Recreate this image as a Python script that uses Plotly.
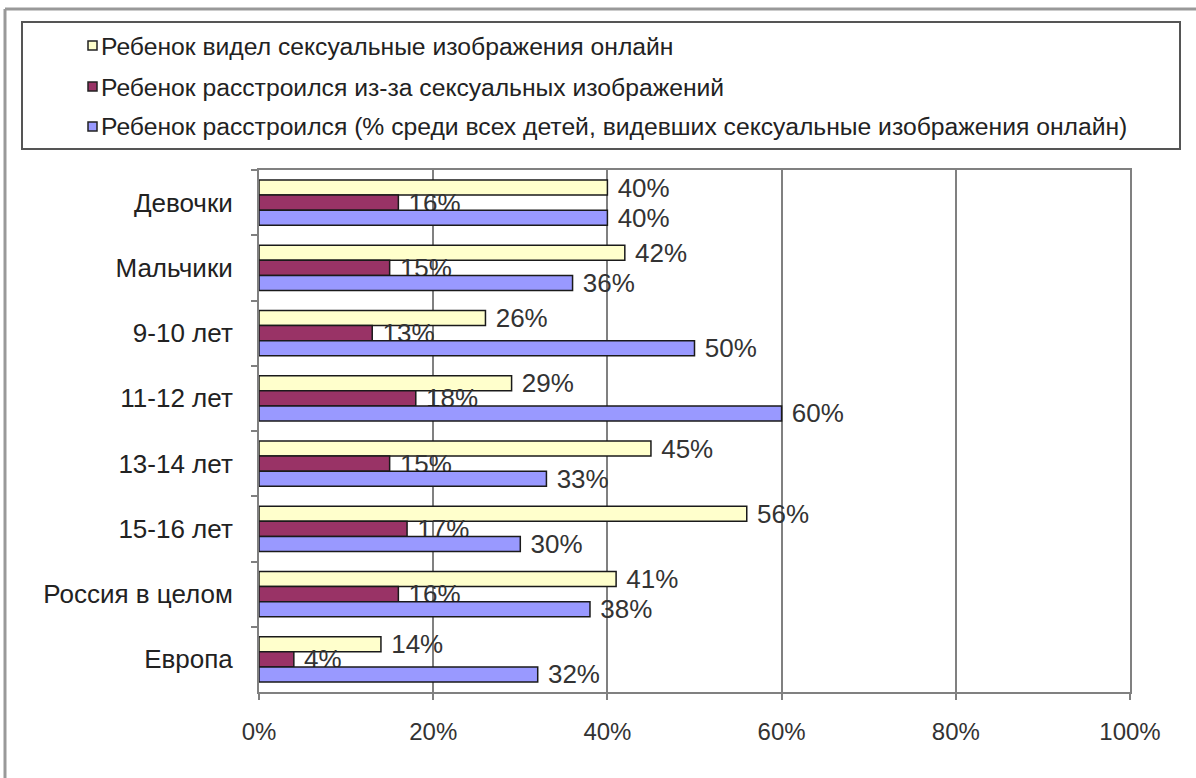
import plotly.graph_objects as go

# Categories (top to bottom) and the three series, as shares
categories = ["Девочки", "Мальчики", "9-10 лет", "11-12 лет", "13-14 лет",
              "15-16 лет", "Россия в целом", "Европа"]
seen_images = [0.40, 0.42, 0.26, 0.29, 0.45, 0.56, 0.41, 0.14]
upset_all = [0.16, 0.15, 0.13, 0.18, 0.15, 0.17, 0.16, 0.04]
upset_among_seen = [0.40, 0.36, 0.50, 0.60, 0.33, 0.30, 0.38, 0.32]

series_names = [
    "Ребенок видел сексуальные изображения онлайн",
    "Ребенок расстроился из-за сексуальных изображений",
    "Ребенок расстроился (% среди всех детей, видевших сексуальные изображения онлайн)",
]
series_values = [seen_images, upset_all, upset_among_seen]
series_colors = ["#FFFFCC", "#993366", "#9999FF"]
x_ticks = [0, 0.2, 0.4, 0.6, 0.8, 1.0]

FONT = "Liberation Sans, Arial, sans-serif"
W, H = 1196, 778
ML, MR, MT, MB = 259, 66, 170, 86
PW, PH = W - ML - MR, H - MT - MB


def px_x(px):
    return (px - ML) / PW


def px_y(py):
    return 1 - (py - MT) / PH


fig = go.Figure()
for name, vals, color in zip(series_names, series_values, series_colors):
    fig.add_trace(go.Bar(
        y=categories, x=vals, name=name, orientation="h",
        marker=dict(color=color, line=dict(color="#1a1a1a", width=1.5)),
        texttemplate="\u00a0%{x:.0%}", textposition="outside",
        textfont=dict(family=FONT, size=26, color="#333333"),
        cliponaxis=False, constraintext="none", showlegend=False,
    ))

shapes = []
annotations = []

# Outer frame (top and left edges)
shapes.append(dict(type="line", xref="paper", yref="paper",
                   x0=px_x(5), x1=px_x(W + 5), y0=px_y(9), y1=px_y(9),
                   line=dict(color="#999999", width=3)))
shapes.append(dict(type="line", xref="paper", yref="paper",
                   x0=px_x(5), x1=px_x(5), y0=px_y(9), y1=px_y(H + 5),
                   line=dict(color="#999999", width=3)))

# Legend box
shapes.append(dict(type="rect", xref="paper", yref="paper",
                   x0=px_x(22), x1=px_x(1180), y0=px_y(22), y1=px_y(149),
                   line=dict(color="#555555", width=2), fillcolor="white",
                   layer="below"))
legend_rows = [46, 87, 127]
for name, color, ry in zip(series_names, series_colors, legend_rows):
    shapes.append(dict(type="rect", xref="paper", yref="paper",
                       x0=px_x(88), x1=px_x(97), y0=px_y(ry - 5), y1=px_y(ry + 4),
                       line=dict(color="#222222", width=1.5), fillcolor=color))
    annotations.append(dict(xref="paper", yref="paper", x=px_x(99), y=px_y(ry),
                            xanchor="left", yanchor="middle", showarrow=False,
                            text=name,
                            font=dict(family=FONT, size=24.7, color="#222222")))

fig.update_layout(
    width=W, height=H,
    margin=dict(l=ML, r=MR, t=MT, b=MB, pad=0),
    paper_bgcolor="white", plot_bgcolor="white",
    barmode="group", bargap=0.31, bargroupgap=0,
    shapes=shapes, annotations=annotations,
    font=dict(family=FONT, color="#333333"),
)
fig.update_xaxes(
    range=[0, 1], tickvals=x_ticks, tickformat=".0%",
    showgrid=True, gridcolor="#808080", gridwidth=1.5,
    showline=True, linecolor="#808080", linewidth=2, mirror=True,
    ticks="outside", ticklen=6, tickcolor="#808080", tickwidth=1.5,
    tickfont=dict(family=FONT, size=24, color="#333333"),
    ticklabelstandoff=11, zeroline=False, fixedrange=True,
)
fig.update_yaxes(
    categoryorder="array", categoryarray=categories, autorange="reversed",
    showline=True, linecolor="#808080", linewidth=2, mirror=True,
    ticks="outside", tickson="boundaries", ticklen=6, tickcolor="#808080",
    tickwidth=1.5,
    tickfont=dict(family=FONT, size=26, color="#222222"),
    ticklabelstandoff=19, showgrid=False, fixedrange=True,
)

fig.write_html("out.html")
